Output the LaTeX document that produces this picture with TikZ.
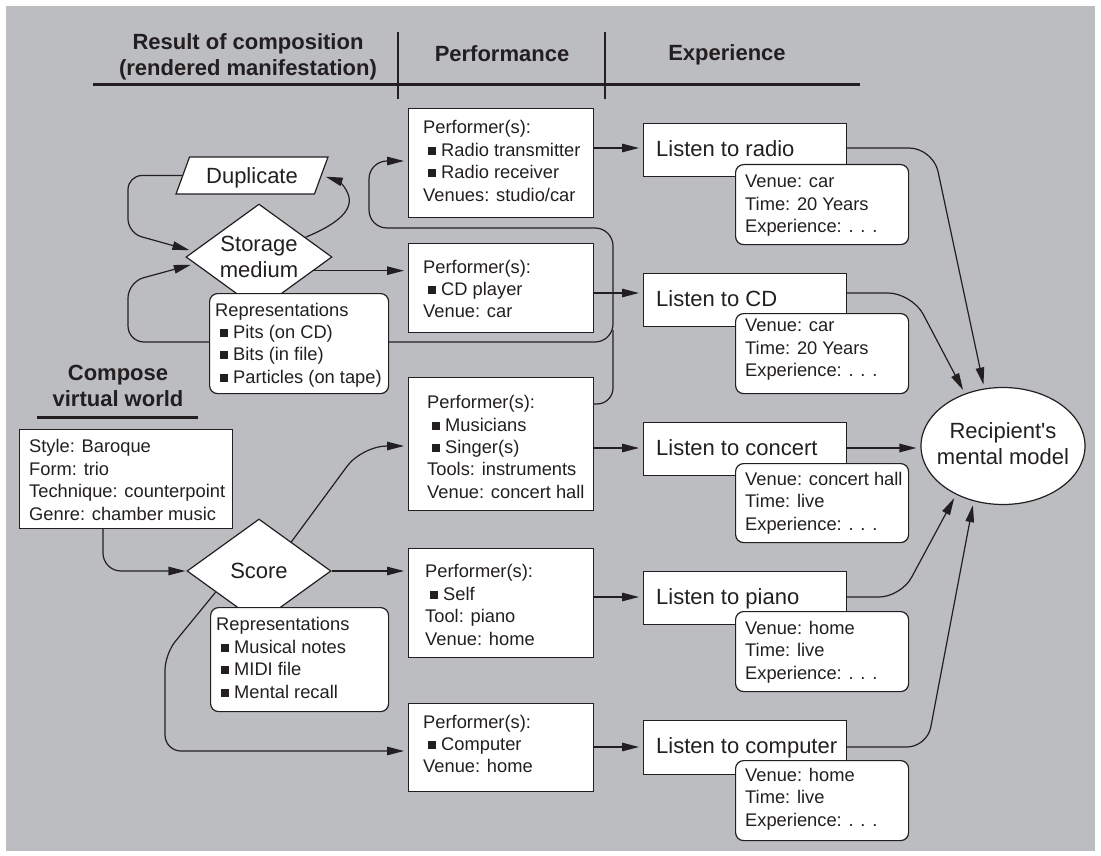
\documentclass[tikz,border=0pt]{standalone}
\usepackage{fontspec}
\setmainfont{Liberation Sans}
\usetikzlibrary{shapes.geometric,arrows.meta}
\definecolor{bg}{RGB}{188,189,193}
\definecolor{ink}{RGB}{35,31,32}
\newcommand{\bl}{\hspace*{5pt}\raisebox{1.5pt}{\rule{8pt}{8pt}}\hspace{5pt}}
\begin{document}
\begin{tikzpicture}[x=1pt,y=-1pt,
  every node/.style={text=ink},
  bigf/.style={font=\fontsize{22pt}{26pt}\selectfont},
  smallf/.style={font=\fontsize{18.3pt}{22.4pt}\selectfont},
  hdr/.style={font=\bfseries\fontsize{22pt}{26pt}\selectfont, align=center, inner sep=0pt},
  box/.style={draw=ink, line width=1.2pt, fill=white, inner sep=0pt, anchor=north west},
  rbox/.style={box, rounded corners=8pt},
  shp/.style={draw=ink, line width=1.2pt, fill=white, inner sep=0pt},
  txt/.style={smallf, align=left, inner sep=0pt, anchor=west},
  btxt/.style={bigf, inner sep=0pt, anchor=west, text depth=0pt},
  rule/.style={draw=ink, line width=3pt},
  vrule/.style={draw=ink, line width=2pt},
  conn/.style={draw=ink, line width=1.2pt},
  arr/.style={conn, -{Triangle[length=17pt,width=8.5pt]}, shorten >=4pt},
]
\useasboundingbox (0,0) rectangle (1101,856);
\fill[white] (0,0) rectangle (1101,856);
\fill[bg] (6,6) rectangle (1095,851);

% headers
\node[hdr] (h1) at (248,57) {Result of composition\\(rendered manifestation)};
\node[hdr] (h2) at (502,54) {Performance};
\node[hdr] (h3) at (727,55) {Experience};
\draw[rule] (93,85) -- (860,85);
\draw[vrule] (398,32) -- (398,99);
\draw[vrule] (605,32) -- (605,99);
\node[hdr] (h4) at (118,386) {Compose\\virtual world};
\draw[rule] (37,417) -- (198,417);

% compose
\node[box, minimum width=213pt, minimum height=99pt] (style) at (19,429) {};
\node[txt] (stylet) at (29,480) {Style: Baroque\\Form: trio\\Technique: counterpoint\\Genre: chamber music};

% storage / duplicate
\node[shp, diamond, aspect=1.38, minimum width=146pt, minimum height=106pt, bigf, align=center] (st) at (259,257) {Storage\\medium};
\node[shp, trapezium, trapezium left angle=58, trapezium right angle=122, trapezium stretches=true, minimum width=152pt, minimum height=37pt, bigf, text depth=0pt] (dup) at (252,175.5) {Duplicate};
\node[rbox, minimum width=179pt, minimum height=100pt] (srep) at (209,293) {};
\node[txt] (srept) at (215,345) {Representations\\\bl Pits (on CD)\\\bl Bits (in file)\\\bl Particles (on tape)};

% score
\node[shp, diamond, aspect=1.38, minimum width=144pt, minimum height=104pt, bigf] (sc) at (259,571) {Score};
\node[rbox, minimum width=178pt, minimum height=104pt] (screp) at (210,607) {};
\node[txt] (scrept) at (216,658) {Representations\\\bl Musical notes\\\bl MIDI file\\\bl Mental recall};

% performers
\node[box, minimum width=185pt, minimum height=109pt] (p1) at (408,108) {};
\node[txt] (p1t) at (423,161) {Performer(s):\\\bl Radio transmitter\\\bl Radio receiver\\Venues: studio/car};
\node[box, minimum width=185pt, minimum height=89pt] (p2) at (408,243) {};
\node[txt] (p2t) at (423,289) {Performer(s):\\\bl CD player\\Venue: car};
\node[box, minimum width=185pt, minimum height=133pt] (p3) at (408,377) {};
\node[txt] (p3t) at (427,447) {Performer(s):\\\bl Musicians\\\bl Singer(s)\\Tools: instruments\\Venue: concert hall};
\node[box, minimum width=185pt, minimum height=109pt] (p4) at (408,548) {};
\node[txt] (p4t) at (425,605) {Performer(s):\\\bl Self\\Tool: piano\\Venue: home};
\node[box, minimum width=185pt, minimum height=88pt] (p5) at (408,703) {};
\node[txt] (p5t) at (423,744) {Performer(s):\\\bl Computer\\Venue: home};

% listen boxes
\node[box, minimum width=203pt, minimum height=53pt] (l1) at (643,123) {};
\node[btxt] (l1t) at (656,148.5) {Listen to radio};
\node[box, minimum width=203pt, minimum height=53pt] (l2) at (643,273) {};
\node[btxt] (l2t) at (656,299) {Listen to CD};
\node[box, minimum width=203pt, minimum height=53pt] (l3) at (643,422) {};
\node[btxt] (l3t) at (656,448) {Listen to concert};
\node[box, minimum width=203pt, minimum height=53pt] (l4) at (643,571) {};
\node[btxt] (l4t) at (656,597) {Listen to piano};
\node[box, minimum width=203pt, minimum height=54pt] (l5) at (643,720) {};
\node[btxt] (l5t) at (656,746) {Listen to computer};

% detail boxes
\node[rbox, minimum width=173pt, minimum height=80pt] (d1) at (735,164) {};
\node[txt] (d1t) at (745,206) {Venue: car\\Time: 20 Years\\Experience: . . .};
\node[rbox, minimum width=173pt, minimum height=80pt] (d2) at (735,313) {};
\node[txt] (d2t) at (745,350) {Venue: car\\Time: 20 Years\\Experience: . . .};
\node[rbox, minimum width=173pt, minimum height=79pt] (d3) at (735,463) {};
\node[txt] (d3t) at (745,503) {Venue: concert hall\\Time: live\\Experience: . . .};
\node[rbox, minimum width=173pt, minimum height=80pt] (d4) at (735,611) {};
\node[txt] (d4t) at (745,652) {Venue: home\\Time: live\\Experience: . . .};
\node[rbox, minimum width=173pt, minimum height=80pt] (d5) at (735,760) {};
\node[txt] (d5t) at (745,799) {Venue: home\\Time: live\\Experience: . . .};

% recipient
\node[shp, ellipse, minimum width=164pt, minimum height=117pt] (rec) at (1003,446) {};
\node[bigf, align=center, inner sep=0pt] (rect) at (1003,444) {Recipient\textquotesingle s\\mental model};

% connectors: performance -> experience
\draw[arr] (p1.east |- 0,148) -- (l1.west |- 0,148);
\draw[arr] (p2.east |- 0,293) -- (l2.west |- 0,293);
\draw[arr] (p3.east |- 0,448) -- (l3.west |- 0,448);
\draw[arr] (p4.east |- 0,597) -- (l4.west |- 0,597);
\draw[arr] (p5.east |- 0,747) -- (l5.west |- 0,747);

% experience -> recipient
\draw[arr, rounded corners=24pt] (l1.east |- 0,148) -- (933,148) -- (rec.108);
\draw[arr, rounded corners=24pt] (l2.east |- 0,293) -- (912,293) -- (rec.126);
\draw[arr] (l3.east |- 0,448) -- (rec.west |- 0,448);
\draw[arr, rounded corners=22pt] (l4.east |- 0,597) -- (901,597) -- (rec.226);
\draw[arr, rounded corners=20pt] (l5.east |- 0,747) -- (927,747) -- (rec.242);

% compose -> score -> performers
\draw[arr, shorten >=1pt, rounded corners=18pt] (style.south -| 103,0) -- (103,571) -- (sc.west);
\draw[arr] (sc.east) -- (p4.west |- sc.east);
\draw[arr, rounded corners=25pt] (sc.42) -- (362,446) -- (p3.west |- 0,446);
\draw[arr, rounded corners=16pt] (sc.206) -- (165,654) -- (165,751) -- (p5.west |- 0,751);

% storage medium
\draw[arr] (st.-14) -- (p2.west |- st.-14);
\draw[arr] (st.23) .. controls (335,225) and (352,212) .. (349,197) .. controls (346,185) and (336,180) .. (dup.east);
\draw[arr, rounded corners=14pt] (dup.west) -- (128,175.5) -- (128,233) -- (st.175);
\draw[arr, rounded corners=16pt] (srep.west |- 0,342) -- (128,342) -- (128,282) -- (st.186);
\draw[arr, rounded corners=18pt] (srep.east |- 0,342) -- (613,342) -- (613,228) -- (369,228) -- (369,161) -- (p1.west |- 0,161);
\draw[conn, rounded corners=16pt] (p3.east |- 0,404) -- (613,404) -- (613,330);
\end{tikzpicture}
\end{document}
